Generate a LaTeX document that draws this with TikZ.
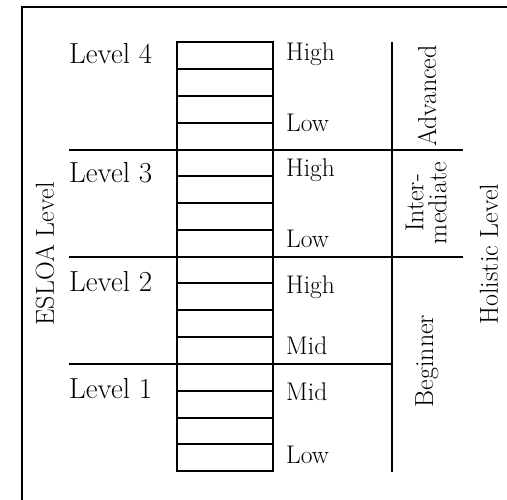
\documentclass[tikz,border=0pt]{standalone}
\usepackage{fontspec}
\setmainfont{Latin Modern Roman}
\begin{document}
\begin{tikzpicture}[x=1pt,y=-1pt,
  ln/.style={line width=2pt, black},
  lvl/.style={font=\fontsize{29}{32}\selectfont, anchor=base west, inner sep=0pt},
  sub/.style={font=\fontsize{25.5}{28}\selectfont, anchor=base west, inner sep=0pt},
  vert/.style={font=\fontsize{26}{23}\selectfont, rotate=90, anchor=center, inner sep=0pt, align=center}]
\useasboundingbox (0,0) rectangle (507,500);
\clip (0,0) rectangle (507,500);
% outer frame
\draw[ln] (22,530) -- (22,7) -- (530,7);
% ladder
\draw[ln] (177,42) rectangle (273,471);
\foreach \y in {69,96,123,150,176,203,230,257,283,310,337,364,391,418,444} {
  \draw[ln] (177,\y) -- (273,\y);
}
% level dividers
\draw[ln] (69,150) -- (463,150);
\draw[ln] (69,257) -- (463,257);
\draw[ln] (69,364) -- (392,364);
% holistic divider
\draw[ln] (392,42) -- (392,472);
% left labels
\node[lvl] (l4) at (69,64) {Level 4};
\node[lvl] (l3) at (69,183) {Level 3};
\node[lvl] (l2) at (69,292) {Level 2};
\node[lvl] (l1) at (69,399) {Level 1};
% sub labels
\node[sub] (h4) at (286,61) {High};
\node[sub] (w4) at (286,132) {Low};
\node[sub] (h3) at (286,177) {High};
\node[sub] (w3) at (286,248) {Low};
\node[sub] (h2) at (286,294) {High};
\node[sub] (m2) at (286,355) {Mid};
\node[sub] (m1) at (286,401) {Mid};
\node[sub] (w1) at (286,464) {Low};
% vertical labels
\node[vert] (esloa) at (45,254) {ESLOA Level};
\node[vert] (adv) at (427,96) {Advanced};
\node[vert] (inter) at (426,203) {Inter-\\mediate};
\node[vert] (beg) at (427,361) {Beginner};
\node[vert] (hol) at (489,254) {Holistic Level};
\end{tikzpicture}
\end{document}
